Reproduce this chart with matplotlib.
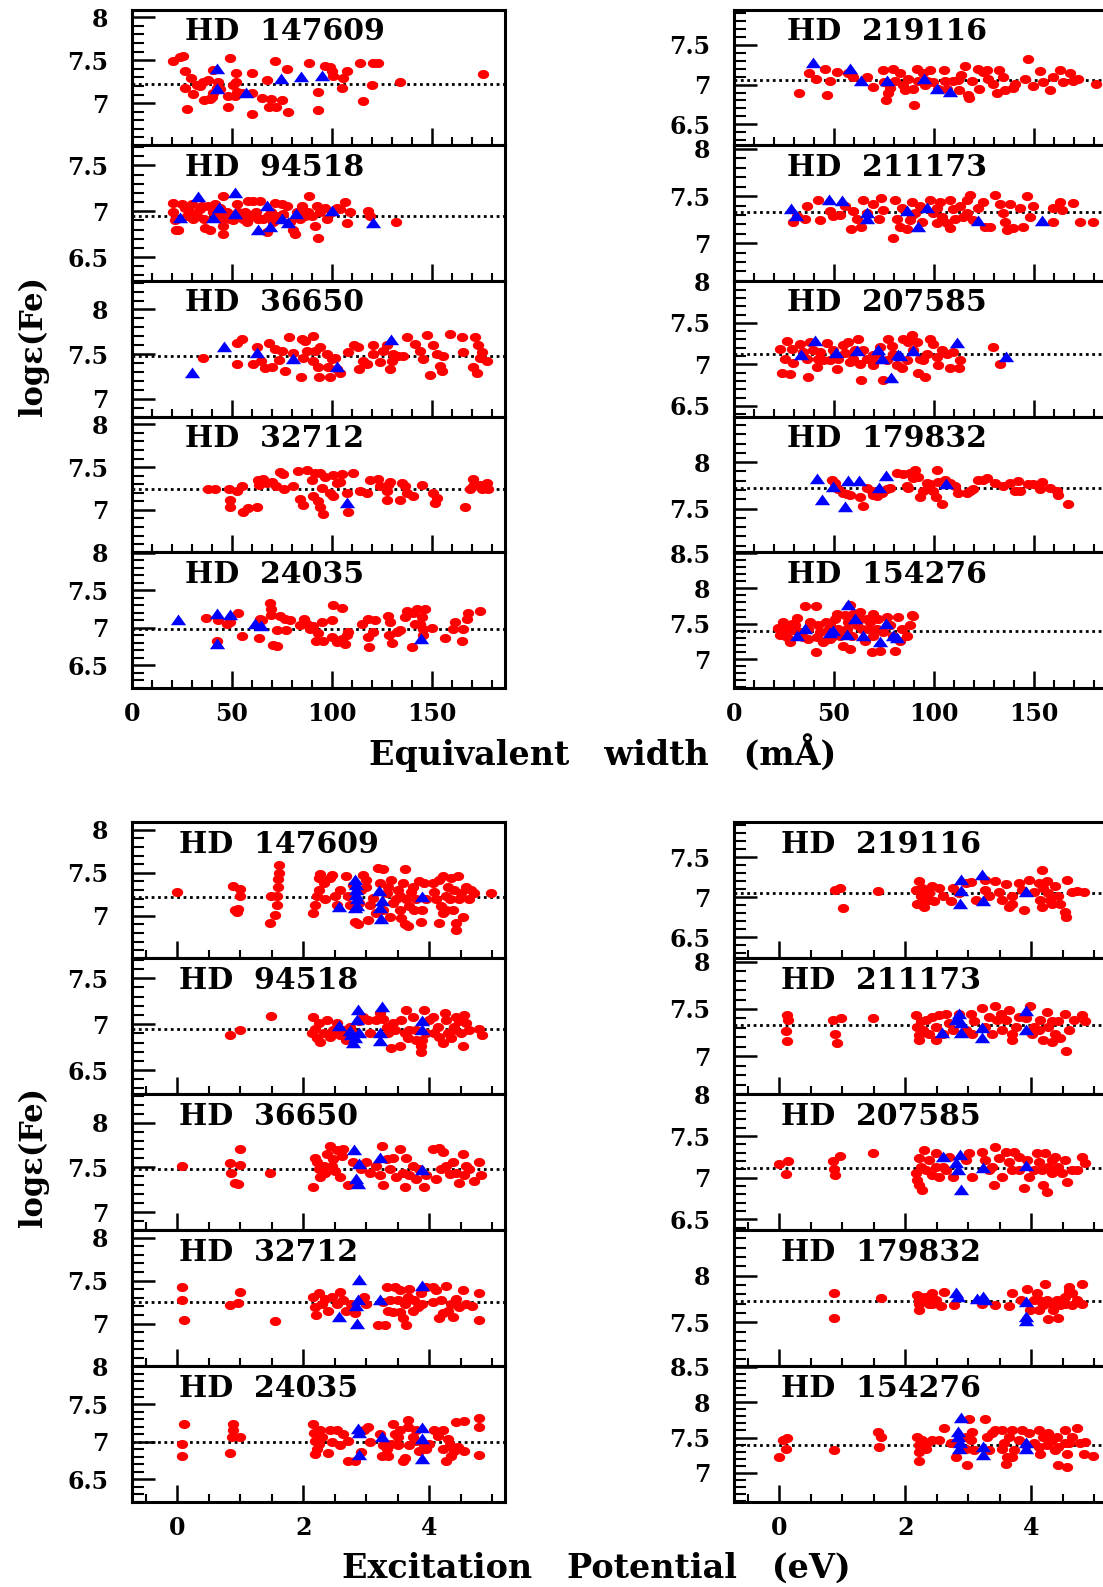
import numpy as np
import matplotlib.pyplot as plt
from matplotlib.ticker import MultipleLocator, FuncFormatter

plt.rcParams['font.family'] = ['DejaVu Serif']
plt.rcParams['font.weight'] = 'bold'

# star order: left column then right column
stars_left = ["147609", "94518", "36650", "32712", "24035"]
stars_right = ["219116", "211173", "207585", "179832", "154276"]
y_low = [6.51, 6.24, 6.80, 6.505, 6.20, 6.24, 6.60, 6.37, 7.03, 6.59]
y_high = [8.09, 7.72, 8.32, 8.09, 8.005, 7.94, 8.04, 8.005, 8.49, 8.51]
mean_fe = [7.22, 6.945, 7.48, 7.25, 6.99, 7.055, 7.33, 7.12, 7.725, 7.40]

# ---- equivalent width (mA) vs log eps ----
ew1_147609 = [(20.3,7.49),(24,7.54),(25.3,7.55),(26.5,7.37),(29.3,7.29),(26.5,7.18),(30.7,7.11),(27.7,6.93),(32.3,7.21),(34,7.2),(35.7,7.25),(36,7.04),(38.2,7.27),(39,7.05),(40,7.07),(40.7,7.12),(40.7,7.38),(42.3,7.18),(43.2,7.25),(44,7.17),(48,7.08),(48.2,6.96),(49,7.53),(50.7,7.21),(51.5,7.08),(51.8,7.25),(52,7.35),(52.7,7.13),(54.8,7.12),(60.2,7.35),(60.2,7.12),(60.2,6.87),(64.8,7.06),(67.3,7.27),(68.7,6.96),(69.3,7.05),(71.5,7.49),(72,6.96),(74.8,7.04),(77.3,7.4),(78.2,6.9),(88.7,7.47),(93.2,7.13),(93.2,6.92),(96.5,7.43),(99,7.42),(99.8,7.37),(100.7,7.31),(104.8,7.18),(105.7,7.29),(107.3,7.37),(114,7.47),(115.3,7.03),(119.8,7.21),(120.3,7.47),(122.8,7.47),(134,7.25),(175.7,7.34)]
ew2_147609 = [(42.7,7.40),(42.7,7.16),(57,7.12),(74.3,7.28),(84.5,7.30),(94.8,7.31)]

ew1_94518 = [(20.3,7.09),(20.7,6.99),(21.5,6.9),(22,6.79),(23.2,6.79),(24.8,7.08),(26.5,7.04),(27.3,6.95),(29,6.99),(29.8,7.08),(30.7,6.91),(32.3,6.95),(34,7.02),(34.8,7.06),(36,6.91),(36.5,6.82),(38.2,7.06),(39,6.8),(40.7,6.99),(41.5,7.08),(43.2,6.97),(44,7.04),(44.8,6.91),(45.3,7.17),(45.7,6.84),(45.3,6.75),(47.3,6.99),(49,6.91),(50.7,6.9),(52.3,7.08),(53.2,6.99),(54,6.95),(55.3,6.91),(56.5,6.99),(57.3,6.88),(58.2,7.11),(59.8,6.95),(60.7,7.11),(62,6.99),(63.2,6.91),(64,7.11),(65.7,6.91),(67.3,6.77),(68.2,6.95),(69.3,6.99),(70.7,6.88),(71.5,7.09),(72.3,6.95),(74.8,7.08),(75.7,6.97),(77.3,7.06),(79,6.88),(80.3,6.8),(81.5,6.75),(82.3,6.99),(84,6.91),(84.8,7.06),(86.5,6.95),(88.2,6.99),(88.7,7.17),(89.8,6.95),(91.5,6.84),(92.3,7.06),(93.2,6.71),(94,6.99),(96.5,7.04),(97.3,6.91),(99.8,6.99),(102.3,7.04),(104,7.02),(106.5,7.1),(107.3,6.87),(109,6.99),(118.2,7.0),(119,6.95),(132,6.88)]
ew2_94518 = [(24,6.93),(32.8,7.16),(40.7,6.93),(43.7,7.03),(51.5,7.2),(51.5,6.97),(63.2,6.8),(67.3,7.06),(69,6.83),(74.8,6.91),(78.2,6.87),(82,6.97),(99.8,7.0),(120.3,6.87)]

ew1_36650 = [(35.3,7.46),(52.7,7.62),(52.7,7.39),(54.8,7.67),(60.3,7.39),(62.3,7.58),(64.3,7.42),(66.5,7.34),(68.7,7.63),(69.8,7.35),(71.5,7.56),(73.7,7.43),(74.8,7.54),(76.5,7.31),(78.7,7.69),(80.7,7.51),(84.3,7.24),(84.8,7.67),(85.3,7.46),(86.5,7.65),(87.3,7.54),(90.3,7.7),(90.7,7.42),(91.5,7.54),(93.2,7.36),(94,7.58),(93.7,7.24),(97.3,7.5),(98.2,7.35),(99,7.24),(99.8,7.44),(101.5,7.46),(102.3,7.33),(104,7.29),(108.2,7.52),(111,7.6),(113.2,7.58),(113.7,7.33),(115.7,7.42),(117.3,7.39),(120.7,7.6),(120.7,7.5),(124,7.41),(125.7,7.54),(127.3,7.6),(129,7.33),(129.8,7.42),(130.7,7.5),(133.2,7.48),(135.7,7.48),(137.3,7.69),(141.5,7.61),(144,7.54),(145.7,7.44),(147.3,7.71),(149,7.27),(150.7,7.6),(152.3,7.5),(154,7.37),(154.8,7.31),(155.7,7.48),(159,7.73),(164.8,7.69),(165.7,7.52),(170.7,7.35),(171.5,7.69),(172.3,7.29),(173.2,7.6),(174,7.46),(174.8,7.52),(177.3,7.42)]
ew2_36650 = [(29.8,7.29),(46,7.58),(62.7,7.51),(80.7,7.45),(102.7,7.35),(129.3,7.66)]

ew1_32712 = [(38.2,7.24),(41.5,7.25),(48.7,7.24),(49,7.12),(49,7.03),(52.7,7.22),(54.8,7.28),(55.7,6.97),(58.2,7.02),(62.7,7.03),(63.2,7.35),(63.7,7.29),(65.7,7.36),(67.3,7.31),(69.8,7.33),(72,7.28),(74,7.44),(75.7,7.42),(76,7.24),(80.7,7.28),(83.2,7.45),(84,7.13),(85.7,7.06),(87.3,7.47),(89.8,7.35),(90.7,7.16),(91.5,7.43),(93.2,7.1),(94,7.43),(94,7.03),(94.8,7.26),(95.7,6.95),(96.5,7.39),(99,7.2),(100.7,7.41),(100.7,7.16),(102.3,7.31),(104,7.33),(104.8,7.42),(107.3,7.2),(108.2,6.98),(110.7,7.43),(114,7.22),(117.3,7.2),(119,7.35),(123.2,7.36),(124,7.28),(127.3,7.22),(127.3,7.12),(128.2,7.29),(129,7.33),(134,7.12),(134.8,7.31),(136.5,7.28),(137.3,7.2),(140.7,7.16),(144.8,7.29),(150.7,7.2),(151.5,7.08),(152.3,7.14),(166.5,7.03),(169,7.24),(170.7,7.36),(170.7,7.28),(174,7.29),(174.8,7.24),(177.3,7.31),(178.2,7.24)]
ew2_32712 = [(107.3,7.08)]

ew1_24035 = [(37,7.13),(43.2,7.1),(42.3,6.83),(47.3,7.05),(49,7.08),(53.2,7.2),(54.8,6.89),(63.7,6.86),(64,7.12),(64.8,7.11),(69,7.33),(69.3,7.25),(69.3,7.17),(70.7,6.77),(72.3,6.76),(72.7,6.97),(74,7.16),(76.5,7.12),(77,6.97),(79,7.11),(84,7.04),(86,7.12),(87.3,7.05),(89,6.99),(90.7,7.03),(92,6.83),(93.2,6.93),(94.8,7.08),(95.7,6.83),(99.8,7.1),(99.8,6.88),(100.3,7.3),(102.3,6.81),(104.8,7.27),(104.8,6.85),(106.5,6.79),(107.3,6.9),(108.2,6.94),(114.8,7.05),(118.2,7.12),(118.2,6.88),(118.7,6.74),(120.7,6.94),(121.5,7.11),(128.2,7.16),(128.7,6.9),(129,7.08),(129.8,6.8),(132.3,6.94),(134,6.97),(136.5,7.14),(137.3,7.23),(139.8,6.74),(140.7,7.2),(141.5,7.05),(142.3,7.25),(144,7.05),(144.8,7.14),(145.7,6.99),(145.7,6.91),(146.5,7.25),(149.8,7.0),(156.5,6.86),(160.7,6.99),(161.5,7.08),(164.8,6.83),(165.7,6.99),(167.3,7.12),(168.2,7.2),(174,7.23)]
ew2_24035 = [(23.2,7.11),(42.3,7.19),(42.7,6.79),(49,7.17),(61.5,7.05),(64.3,7.03),(144.3,6.85)]

ew1_219116 = [(32.7,6.9),(37.7,7.15),(41,7.07),(45.5,7.2),(46.7,6.87),(48,7.04),(51.3,7.16),(57.2,7.14),(59.3,7.1),(66.3,7.1),(69.7,6.97),(74.3,7.18),(75,7.03),(76,6.81),(77.2,6.9),(78,6.96),(79.7,7.2),(80.5,7.05),(83,7.15),(84.3,6.99),(85.5,6.93),(87.2,7.07),(89.7,6.95),(90,6.74),(91.3,7.2),(92.2,7.05),(94.3,7.15),(95.5,6.99),(96.3,7.05),(98,7.18),(99.7,7.03),(102.2,6.95),(105,7.18),(105.5,7.05),(106.3,6.95),(109.7,7.05),(112.2,7.06),(112.7,6.93),(113.3,7.12),(115.5,7.23),(117.2,6.87),(117.7,6.83),(118.8,7.05),(122.2,7.2),(122.7,6.95),(124.7,7.16),(126.3,7.18),(127.2,7.07),(129.7,7.01),(131.3,6.89),(132.7,7.18),(134.7,7.1),(135.5,6.93),(139.7,6.96),(140.5,7.01),(145.5,7.07),(147.2,7.32),(149.7,6.98),(153,7.17),(154.3,7.03),(158,6.93),(159.7,7.1),(163,7.18),(164.7,7.03),(168,7.15),(169.7,7.05),(172.2,7.07),(181,7.01)]
ew2_219116 = [(39.3,7.27),(58,7.2),(63.3,7.04),(76.3,7.04),(95,7.07),(101.3,6.94),(108,6.91)]

ew1_211173 = [(29.3,7.22),(31.7,7.29),(35.5,7.26),(36.7,7.39),(42.2,7.46),(43,7.25),(48,7.34),(49.7,7.29),(53,7.3),(55.5,7.4),(58.3,7.15),(59.7,7.34),(61.3,7.26),(63.3,7.17),(64.7,7.46),(66.3,7.32),(69.7,7.42),(72.7,7.26),(73.3,7.48),(74.7,7.35),(79.7,7.05),(80.5,7.46),(81.3,7.26),(83,7.17),(83.8,7.37),(86.3,7.15),(88,7.25),(88.8,7.44),(88.8,7.3),(90.5,7.32),(93,7.39),(93.8,7.23),(98,7.46),(99.7,7.32),(101.3,7.21),(101.3,7.37),(103,7.44),(103.8,7.28),(106.3,7.21),(108,7.46),(108,7.16),(109.7,7.36),(110.5,7.26),(113,7.39),(114.3,7.28),(116.3,7.32),(116.3,7.46),(118,7.51),(119.7,7.25),(122.2,7.37),(124.7,7.44),(125.5,7.17),(128,7.17),(130.5,7.51),(133,7.42),(134.7,7.32),(135.5,7.23),(136.3,7.14),(138,7.42),(139.7,7.16),(143,7.37),(144.7,7.17),(146.3,7.5),(148,7.28),(149.7,7.4),(159.7,7.23),(159.7,7.37),(163,7.44),(163.8,7.35),(169.7,7.43),(173,7.23),(179.7,7.22)]
ew2_211173 = [(28.5,7.36),(31,7.29),(47.7,7.46),(53.8,7.45),(66.3,7.32),(66.3,7.26),(86.7,7.34),(92.2,7.17),(96.7,7.37),(121.8,7.24),(153.8,7.24)]

ew1_207585 = [(23,7.19),(23.8,6.9),(25.5,7.07),(26.3,7.28),(28,6.88),(28.8,7.19),(29.7,7.01),(33,7.24),(34.7,7.15),(36.7,7.06),(37.2,6.85),(38,7.27),(39.7,7.17),(41.3,6.97),(42.2,7.07),(43,7.15),(44.7,7.05),(46.3,7.26),(48,7.05),(49.7,7.17),(51.3,6.94),(52.2,7.07),(54.7,7.23),(55.5,7.14),(57.2,7.27),(58,7.03),(59.7,7.07),(60.5,7.17),(62.2,7.31),(63,7.0),(63.3,6.81),(64.7,7.17),(66.3,7.07),(68.8,7.05),(69.7,6.99),(69.7,7.11),(71.3,7.13),(73,7.21),(74.7,6.81),(76.3,7.05),(77.2,7.31),(78.8,7.22),(79.7,7.13),(81.3,6.99),(83.8,6.95),(84.7,7.31),(86.3,7.05),(87.2,7.27),(88.8,7.35),(89.7,7.17),(91.3,7.27),(92.2,6.89),(93,7.07),(94.7,7.05),(95.5,6.85),(96.3,7.13),(98,7.3),(99.7,7.25),(101.3,7.09),(102.2,6.99),(103.8,7.17),(106.3,7.13),(108,6.96),(109.7,7.15),(112.7,6.96),(113,7.05),(129.7,7.21),(133,7.0)]
ew2_207585 = [(33.3,7.11),(40.5,7.28),(51,7.14),(61.7,7.16),(72.2,7.17),(73.8,7.07),(78.3,6.84),(82.2,7.11),(83,7.1),(89.3,7.16),(111.7,7.26),(135.8,7.09)]

ew1_179832 = [(48.8,7.81),(50.5,7.78),(52.2,7.71),(54.7,7.67),(56.3,7.66),(58,7.65),(63,7.62),(64.7,7.53),(66.3,7.72),(68.8,7.69),(69.7,7.65),(71.3,7.64),(73.8,7.67),(76.3,7.71),(78,7.72),(81.3,7.88),(84.7,7.87),(86.3,7.74),(87.2,7.72),(88,7.88),(89.7,7.83),(90.5,7.92),(92.2,7.84),(93,7.62),(94.7,7.69),(96.3,7.78),(96.3,7.71),(98,7.76),(99.7,7.69),(101,7.62),(101.3,7.92),(102.2,7.79),(103.8,7.55),(105.5,7.81),(108,7.78),(110.5,7.74),(112.2,7.67),(116.3,7.67),(118,7.69),(119.7,7.71),(122.2,7.81),(124.7,7.81),(126.3,7.83),(130.5,7.78),(134.7,7.74),(138,7.78),(140.5,7.69),(142.2,7.8),(143,7.69),(147.2,7.76),(149.7,7.76),(153,7.71),(153.8,7.79),(158,7.72),(161.3,7.69),(162.2,7.65),(167.2,7.55)]
ew2_179832 = [(41.7,7.82),(43.8,7.59),(49.7,7.73),(55.5,7.52),(57.2,7.8),(62.7,7.8),(72.7,7.72),(76,7.85),(106,7.76)]

ew1_154276 = [(22.2,7.44),(23,7.34),(24.7,7.52),(26,7.43),(26.3,7.31),(28,7.24),(28.8,7.5),(29.7,7.41),(30.5,7.48),(31.7,7.58),(33,7.38),(34.7,7.31),(35.5,7.75),(37.2,7.43),(37.2,7.29),(38,7.52),(41,7.75),(41.3,7.31),(41,7.1),(42.2,7.48),(43,7.38),(44.7,7.24),(46,7.52),(47.2,7.41),(48,7.48),(48,7.29),(49.7,7.33),(50.5,7.57),(51.3,7.64),(52.2,7.43),(53,7.33),(54.7,7.19),(55.5,7.62),(56.3,7.43),(57.2,7.52),(58,7.14),(58,7.76),(58.8,7.33),(59.7,7.64),(61.3,7.48),(63,7.57),(63,7.67),(63.8,7.43),(65.5,7.26),(66.3,7.57),(67.2,7.43),(68,7.52),(68.8,7.1),(69.7,7.33),(69.7,7.64),(71.3,7.43),(72.2,7.57),(73,7.12),(74.7,7.38),(76.3,7.6),(78,7.48),(79.7,7.33),(80.5,7.12),(82.2,7.6),(83,7.26),(83.8,7.43),(86.3,7.33),(88,7.48),(88.8,7.62),(89.7,7.61)]
ew2_154276 = [(31.3,7.32),(35.5,7.43),(48,7.37),(49.7,7.4),(57.2,7.77),(56.3,7.34),(60.5,7.56),(64.7,7.32),(73,7.24),(76,7.49),(79.7,7.33),(81.3,7.3)]

# ---- excitation potential (eV) vs log eps ----
ep1_147609 = [(-0.01,7.28),(0.89,7.35),(0.92,7.07),(0.95,7.05),(0.97,7.08),(1.0,7.31),(1.0,7.23),(1.47,6.92),(1.48,7.23),(1.55,7.01),(1.58,7.12),(1.58,7.23),(1.59,7.34),(1.59,7.43),(1.61,7.5),(1.61,7.59),(2.16,7.03),(2.18,7.12),(2.21,7.23),(2.24,7.3),(2.24,7.44),(2.26,7.49),(2.32,7.38),(2.34,7.19),(2.42,7.44),(2.45,7.48),(2.5,7.23),(2.53,7.13),(2.58,7.3),(2.68,7.46),(2.71,7.23),(2.74,7.13),(2.79,7.36),(2.82,6.93),(2.87,6.9),(2.89,7.15),(2.92,7.3),(2.95,7.47),(3.0,7.42),(3.0,7.34),(3.03,6.95),(3.05,7.13),(3.11,7.21),(3.16,7.03),(3.18,7.55),(3.21,7.38),(3.26,7.54),(3.26,7.07),(3.32,7.26),(3.34,7.34),(3.37,6.99),(3.39,7.42),(3.42,7.15),(3.47,7.19),(3.5,7.3),(3.53,7.07),(3.53,7.23),(3.55,6.97),(3.58,7.38),(3.61,7.54),(3.61,6.9),(3.63,7.19),(3.66,6.88),(3.68,7.11),(3.71,7.28),(3.74,7.34),(3.76,7.07),(3.79,7.19),(3.84,7.4),(3.87,6.93),(3.89,7.07),(3.92,7.38),(3.95,7.19),(4.05,7.38),(4.08,7.28),(4.11,7.19),(4.16,7.42),(4.16,6.92),(4.18,7.11),(4.21,7.46),(4.21,7.03),(4.26,7.23),(4.26,7.07),(4.29,7.34),(4.32,7.19),(4.34,7.44),(4.37,7.07),(4.39,7.3),(4.42,6.92),(4.42,6.84),(4.45,7.46),(4.47,7.19),(4.5,7.26),(4.53,6.99),(4.58,7.34),(4.63,7.19),(4.66,7.3),(4.71,7.26),(4.97,7.26)]
ep2_147609 = [(2.57,7.10),(2.82,7.42),(2.83,7.36),(2.84,7.30),(2.84,7.24),(2.85,7.19),(2.85,7.11),(2.82,7.09),(3.2,7.29),(3.24,7.17),(3.22,7.09),(3.23,6.96),(3.88,7.22)]

ep1_94518 = [(0.84,6.88),(1.0,6.94),(1.48,7.09),(2.13,6.9),(2.16,7.08),(2.18,6.95),(2.21,6.85),(2.24,7.01),(2.26,6.81),(2.32,6.9),(2.37,7.04),(2.42,6.86),(2.47,6.94),(2.53,7.01),(2.58,6.88),(2.63,6.94),(2.68,6.83),(2.74,6.97),(2.79,6.9),(2.89,7.03),(2.95,7.08),(3.03,7.04),(3.05,6.9),(3.16,7.04),(3.21,7.12),(3.26,7.06),(3.32,6.97),(3.34,6.9),(3.39,6.74),(3.42,7.01),(3.45,6.94),(3.53,6.76),(3.55,7.04),(3.61,6.9),(3.63,7.15),(3.66,6.85),(3.68,6.94),(3.74,7.08),(3.79,6.94),(3.79,6.83),(3.87,6.76),(3.87,6.7),(3.89,6.83),(3.92,7.15),(3.95,6.9),(4.0,7.04),(4.05,7.08),(4.08,6.9),(4.13,6.97),(4.16,6.86),(4.21,6.79),(4.24,7.12),(4.26,7.04),(4.29,6.9),(4.34,6.85),(4.37,6.94),(4.39,6.97),(4.42,7.08),(4.47,7.03),(4.5,6.9),(4.53,6.76),(4.55,7.1),(4.58,7.01),(4.63,6.94),(4.79,6.95),(4.84,6.88)]
ep2_94518 = [(2.57,6.98),(2.74,6.93),(2.76,6.88),(2.79,6.8),(2.82,6.85),(2.87,7.15),(2.85,7.05),(2.88,6.9),(3.24,7.19),(3.21,6.9),(3.21,6.82),(3.88,7.03),(3.88,6.94)]

ep1_36650 = [(0.08,7.51),(0.84,7.55),(0.85,7.44),(0.92,7.33),(0.96,7.31),(1.0,7.71),(0.99,7.53),(1.47,7.44),(2.16,7.28),(2.18,7.61),(2.21,7.56),(2.24,7.48),(2.26,7.39),(2.32,7.52),(2.34,7.44),(2.37,7.65),(2.42,7.74),(2.45,7.52),(2.47,7.59),(2.5,7.46),(2.53,7.69),(2.58,7.39),(2.61,7.63),(2.63,7.71),(2.71,7.3),(2.79,7.56),(2.92,7.48),(3.0,7.56),(3.05,7.44),(3.16,7.52),(3.21,7.41),(3.24,7.74),(3.26,7.3),(3.32,7.59),(3.37,7.48),(3.42,7.61),(3.47,7.39),(3.53,7.71),(3.58,7.44),(3.61,7.28),(3.63,7.61),(3.68,7.41),(3.74,7.52),(3.79,7.37),(3.84,7.48),(3.92,7.28),(3.95,7.41),(4.05,7.71),(4.11,7.37),(4.16,7.72),(4.18,7.48),(4.21,7.67),(4.26,7.52),(4.32,7.43),(4.37,7.56),(4.42,7.44),(4.47,7.33),(4.53,7.65),(4.55,7.41),(4.58,7.52),(4.63,7.48),(4.71,7.35),(4.79,7.56),(4.82,7.41)]
ep2_36650 = [(2.8,7.69),(2.88,7.54),(2.84,7.37),(2.87,7.31),(3.21,7.61),(3.88,7.47)]

ep1_32712 = [(0.08,7.42),(0.08,7.28),(0.11,7.04),(0.84,7.22),(0.97,7.24),(1.0,7.37),(1.55,7.03),(2.16,7.31),(2.18,7.19),(2.2,7.1),(2.24,7.35),(2.29,7.23),(2.34,7.29),(2.39,7.15),(2.45,7.31),(2.53,7.23),(2.58,7.37),(2.63,7.27),(2.68,7.15),(2.76,7.23),(2.82,7.12),(2.97,7.31),(3.0,7.23),(3.18,6.98),(3.26,7.25),(3.29,6.98),(3.32,7.42),(3.34,7.15),(3.37,7.27),(3.42,7.14),(3.45,7.42),(3.5,7.27),(3.53,7.14),(3.53,7.39),(3.58,7.06),(3.61,7.23),(3.63,6.98),(3.66,7.31),(3.68,7.4),(3.74,7.15),(3.76,7.27),(3.82,7.19),(3.87,7.35),(3.89,7.23),(3.95,7.42),(4.05,7.25),(4.05,7.42),(4.11,7.39),(4.16,7.06),(4.18,7.27),(4.21,7.12),(4.26,7.44),(4.29,7.15),(4.34,7.23),(4.37,7.08),(4.42,7.29),(4.47,7.19),(4.53,7.39),(4.58,7.23),(4.68,7.21),(4.79,7.35),(4.79,7.04)]
ep2_32712 = [(2.57,7.08),(2.88,7.51),(2.87,7.27),(2.84,7.21),(2.85,7.0),(3.21,7.27),(3.88,7.44)]

ep1_24035 = [(0.11,7.24),(0.08,6.97),(0.08,6.81),(0.89,7.23),(0.89,7.15),(0.87,7.06),(0.84,6.85),(1.0,7.06),(2.16,7.23),(2.17,7.12),(2.18,7.01),(2.18,6.84),(2.21,6.9),(2.24,6.97),(2.26,7.15),(2.29,7.06),(2.39,6.85),(2.42,7.15),(2.45,6.99),(2.53,7.15),(2.58,6.95),(2.63,7.1),(2.71,7.01),(2.71,6.74),(2.82,6.74),(2.92,6.86),(2.97,7.15),(3.03,7.19),(3.05,6.99),(3.21,7.1),(3.24,6.81),(3.26,6.95),(3.32,6.9),(3.34,6.81),(3.39,6.97),(3.42,7.24),(3.45,7.1),(3.5,6.95),(3.5,7.06),(3.53,7.15),(3.58,6.75),(3.61,6.79),(3.66,7.19),(3.66,7.29),(3.68,6.95),(3.74,7.06),(3.79,7.16),(3.79,7.01),(3.84,6.88),(3.92,6.95),(3.95,6.9),(4.0,6.97),(4.08,7.15),(4.13,7.08),(4.21,7.15),(4.21,6.9),(4.26,6.75),(4.29,7.04),(4.32,6.95),(4.34,6.81),(4.39,6.88),(4.42,7.26),(4.45,6.93),(4.55,7.27),(4.55,6.88),(4.79,7.31),(4.79,7.19),(4.79,6.83)]
ep2_24035 = [(2.87,7.17),(2.88,7.12),(2.88,6.83),(3.24,7.06),(3.89,7.18),(3.89,7.04),(3.89,6.77)]

ep1_219116 = [(0.88,7.09),(0.97,7.11),(1.01,6.87),(1.56,7.08),(2.17,7.09),(2.19,6.92),(2.22,7.2),(2.25,7.01),(2.27,7.11),(2.3,6.88),(2.33,6.97),(2.38,7.05),(2.38,6.97),(2.43,7.14),(2.46,6.95),(2.54,7.11),(2.59,7.01),(2.72,6.95),(2.75,7.11),(2.85,7.05),(2.96,7.18),(3.04,7.19),(3.12,6.97),(3.27,7.09),(3.27,7.22),(3.33,7.01),(3.43,7.2),(3.48,7.07),(3.54,6.97),(3.59,7.16),(3.64,6.88),(3.69,7.01),(3.69,6.92),(3.8,7.18),(3.85,7.09),(3.88,6.84),(3.96,7.22),(4.04,7.07),(4.12,7.18),(4.14,6.97),(4.17,6.88),(4.17,7.34),(4.19,7.11),(4.25,7.2),(4.27,7.05),(4.3,6.97),(4.33,6.92),(4.38,7.14),(4.43,7.01),(4.46,6.92),(4.54,6.82),(4.55,6.75),(4.56,7.21),(4.64,7.07),(4.72,7.08),(4.83,7.06)]
ep2_219116 = [(2.89,7.22),(2.88,7.08),(2.86,6.92),(3.22,7.28),(3.23,6.95),(3.91,7.06)]

ep1_211173 = [(0.12,7.44),(0.14,7.38),(0.11,7.27),(0.12,7.16),(0.85,7.38),(0.88,7.24),(0.91,7.14),(0.98,7.4),(1.48,7.4),(2.17,7.44),(2.19,7.31),(2.21,7.22),(2.22,7.17),(2.25,7.37),(2.28,7.28),(2.33,7.38),(2.38,7.24),(2.43,7.42),(2.48,7.31),(2.48,7.17),(2.54,7.44),(2.59,7.24),(2.64,7.45),(2.69,7.35),(2.75,7.28),(2.85,7.45),(2.96,7.28),(3.04,7.45),(3.06,7.24),(3.09,7.37),(3.22,7.51),(3.27,7.31),(3.33,7.42),(3.38,7.24),(3.43,7.53),(3.46,7.38),(3.51,7.45),(3.54,7.28),(3.59,7.38),(3.64,7.49),(3.69,7.24),(3.69,7.17),(3.75,7.31),(3.8,7.42),(3.91,7.4),(3.98,7.53),(4.01,7.24),(4.04,7.31),(4.12,7.28),(4.14,7.38),(4.19,7.17),(4.25,7.47),(4.27,7.31),(4.33,7.37),(4.33,7.15),(4.38,7.24),(4.43,7.37),(4.46,7.19),(4.54,7.45),(4.55,7.06),(4.59,7.28),(4.67,7.38),(4.8,7.44),(4.85,7.37)]
ep2_211173 = [(2.58,7.25),(2.81,7.38),(2.85,7.45),(2.89,7.35),(2.89,7.25),(3.22,7.30),(3.22,7.19),(3.91,7.48),(3.91,7.28)]

ep1_207585 = [(0.0,7.16),(0.11,7.04),(0.14,7.2),(0.85,7.2),(0.86,7.1),(0.88,7.03),(0.97,7.26),(1.48,7.29),(2.17,7.05),(2.19,6.97),(2.22,7.23),(2.22,6.91),(2.25,7.13),(2.27,6.85),(2.3,7.33),(2.33,7.09),(2.38,7.21),(2.43,7.03),(2.48,7.13),(2.48,7.29),(2.54,7.01),(2.59,7.13),(2.64,7.09),(2.69,7.25),(2.75,7.01),(2.96,7.21),(3.01,7.29),(3.06,7.01),(3.22,7.31),(3.27,7.21),(3.33,7.09),(3.38,7.13),(3.41,6.91),(3.43,7.37),(3.48,7.23),(3.54,7.01),(3.59,7.31),(3.64,7.19),(3.69,7.09),(3.72,7.31),(3.8,7.09),(3.8,7.25),(3.88,6.87),(3.93,7.21),(3.96,7.01),(4.04,7.09),(4.09,7.29),(4.12,7.19),(4.17,7.09),(4.19,6.91),(4.22,7.29),(4.25,6.83),(4.27,7.13),(4.33,7.05),(4.33,7.21),(4.38,7.25),(4.43,7.13),(4.48,7.05),(4.54,7.21),(4.56,6.95),(4.64,7.09),(4.72,7.09),(4.8,7.25),(4.85,7.17)]
ep2_207585 = [(2.59,7.25),(2.81,7.17),(2.86,7.27),(2.84,7.09),(2.88,6.85),(3.23,7.11),(3.91,7.14)]

ep1_179832 = [(0.87,7.81),(0.87,7.55),(1.62,7.76),(2.19,7.79),(2.22,7.74),(2.21,7.63),(2.22,7.7),(2.25,7.77),(2.33,7.77),(2.38,7.7),(2.43,7.81),(2.43,7.7),(2.48,7.74),(2.56,7.67),(2.62,7.82),(2.77,7.68),(3.22,7.7),(3.43,7.68),(3.64,7.67),(3.69,7.81),(3.83,7.74),(3.93,7.86),(3.98,7.63),(4.04,7.74),(4.09,7.81),(4.12,7.63),(4.12,7.74),(4.19,7.68),(4.22,7.91),(4.25,7.74),(4.27,7.53),(4.33,7.7),(4.35,7.63),(4.38,7.7),(4.41,7.74),(4.43,7.55),(4.46,7.68),(4.54,7.77),(4.54,7.7),(4.59,7.84),(4.59,7.88),(4.64,7.81),(4.64,7.68),(4.72,7.74),(4.8,7.91),(4.8,7.7)]
ep2_179832 = [(2.81,7.81),(2.83,7.77),(3.14,7.75),(3.23,7.77),(3.27,7.74),(3.91,7.72),(3.91,7.56),(3.91,7.51)]

ep1_154276 = [(0.0,7.22),(0.05,7.46),(0.12,7.49),(0.11,7.34),(0.86,7.33),(1.56,7.58),(1.62,7.51),(1.58,7.37),(2.19,7.51),(2.22,7.39),(2.21,7.3),(2.21,7.17),(2.27,7.46),(2.33,7.34),(2.35,7.42),(2.43,7.46),(2.54,7.46),(2.62,7.64),(2.72,7.42),(2.8,7.23),(2.96,7.34),(2.96,7.51),(2.98,7.11),(3.01,7.76),(3.04,7.46),(3.06,7.58),(3.09,7.32),(3.27,7.76),(3.3,7.51),(3.33,7.32),(3.38,7.56),(3.43,7.6),(3.54,7.6),(3.54,7.34),(3.56,7.42),(3.59,7.13),(3.62,7.23),(3.64,7.51),(3.69,7.6),(3.69,7.23),(3.72,7.32),(3.8,7.46),(3.85,7.6),(3.91,7.39),(3.96,7.56),(4.04,7.42),(4.12,7.6),(4.12,7.37),(4.14,7.27),(4.19,7.51),(4.25,7.39),(4.27,7.56),(4.33,7.46),(4.38,7.32),(4.41,7.51),(4.43,7.11),(4.43,7.37),(4.54,7.6),(4.54,7.42),(4.56,7.09),(4.56,7.27),(4.59,7.42),(4.64,7.51),(4.72,7.63),(4.77,7.42),(4.83,7.27),(4.85,7.44),(4.98,7.24)]
ep2_154276 = [(2.89,7.78),(2.83,7.58),(2.84,7.51),(2.86,7.42),(2.85,7.34),(3.23,7.36),(3.23,7.25),(3.91,7.42),(3.91,7.34)]

all_stars = stars_left + stars_right
g = globals()
ew_fe1 = {s: g["ew1_" + s] for s in all_stars}
ew_fe2 = {s: g["ew2_" + s] for s in all_stars}
ep_fe1 = {s: g["ep1_" + s] for s in all_stars}
ep_fe2 = {s: g["ep2_" + s] for s in all_stars}

W, H = 1103, 1587
fig = plt.figure(figsize=(W / 100, H / 100), dpi=100)

t = np.linspace(0, 2 * np.pi, 33)
ellipse = list(zip(np.cos(t), 0.8 * np.sin(t)))
triangle = [(-1, -0.62), (1, -0.62), (0, 0.78), (-1, -0.62)]


def panel(x0, y0, w, h):
    return fig.add_axes([x0 / W, 1 - (y0 + h) / H, w / W, h / H])


def draw(ax, star, fe1, fe2, is_ew, bottom_row, lab_x):
    i = all_stars.index(star)
    ax.axhline(mean_fe[i], color="black", lw=2.0, ls=(0, (1, 1.3)), zorder=1)
    a = np.array(fe1)
    ax.plot(a[:, 0], a[:, 1], ls="none", marker=ellipse, ms=8.2,
            mfc="#ff0000", mec="#ff0000", mew=0, zorder=2)
    b = np.array(fe2)
    ax.plot(b[:, 0], b[:, 1], ls="none", marker=triangle, ms=11,
            mfc="#0000ff", mec="#0000ff", mew=0, zorder=3)
    ax.set_ylim(y_low[i], y_high[i])
    if is_ew:
        ax.set_xlim(0, 186.5)
        ax.xaxis.set_major_locator(MultipleLocator(50))
        ax.xaxis.set_minor_locator(MultipleLocator(10))
    else:
        ax.set_xlim(-0.72, 5.2)
        ax.xaxis.set_major_locator(MultipleLocator(2))
        ax.xaxis.set_minor_locator(MultipleLocator(0.5))
    ax.yaxis.set_major_locator(MultipleLocator(0.5))
    ax.yaxis.set_minor_locator(MultipleLocator(0.1))
    ax.yaxis.set_major_formatter(FuncFormatter(lambda v, p: "%g" % v))
    ax.tick_params(which="both", direction="in", top=False, right=False,
                   labelsize=17, labelbottom=bottom_row)
    ax.tick_params(axis="y", which="major", length=16.5, width=1.8, pad=17)
    ax.tick_params(axis="y", which="minor", length=8.5, width=1.5)
    ax.tick_params(axis="x", which="major", length=12, width=1.8, pad=10)
    ax.tick_params(axis="x", which="minor", length=5.5, width=1.5)
    for sp in ax.spines.values():
        sp.set_linewidth(2.2)
    ax.text(lab_x, 0.775, "HD  " + star, transform=ax.transAxes,
            fontsize=21.5, fontweight="bold", ha="left", va="baseline")


col_x = [132, 734]
pw = 373
for c, stars in enumerate([stars_left, stars_right]):
    for r, s in enumerate(stars):
        ax = panel(col_x[c], 9.5 + r * 135.7, pw, 135.7)
        draw(ax, s, ew_fe1[s], ew_fe2[s], True, r == 4, 0.142)
        ax = panel(col_x[c], 822 + r * 136, pw, 136)
        draw(ax, s, ep_fe1[s], ep_fe2[s], False, r == 4, 0.126)

fig.text(33 / W, 1 - 346 / H, "log\u03b5(Fe)", rotation=90, ha="center",
         va="center", fontsize=22, fontweight="bold")
fig.text(33 / W, 1 - 1157 / H, "log\u03b5(Fe)", rotation=90, ha="center",
         va="center", fontsize=22, fontweight="bold")
fig.text(603 / W, 1 - 765 / H, "Equivalent   width   (m\u00c5)", ha="center",
         va="baseline", fontsize=24, fontweight="bold")
fig.text(596 / W, 1 - 1578 / H, "Excitation   Potential   (eV)", ha="center",
         va="baseline", fontsize=24, fontweight="bold")

fig.savefig("out.png", dpi=100)
